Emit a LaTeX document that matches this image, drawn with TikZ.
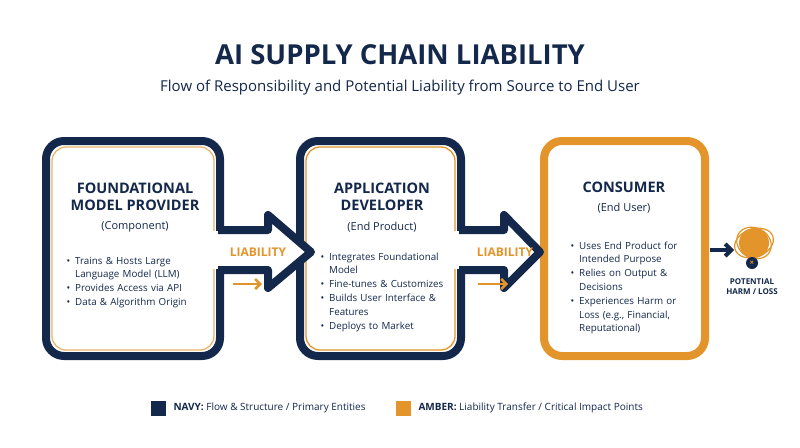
\documentclass[tikz,border=0pt]{standalone}
\usepackage{fontspec}
\setmainfont{Open Sans}
\usepackage{enumitem}
\usetikzlibrary{arrows.meta}
\definecolor{navy}{HTML}{14284B}
\definecolor{amber}{HTML}{E3952B}
\begin{document}
\begin{tikzpicture}[x=1pt,y=-1pt,
  box/.style={line width=8pt,rounded corners=18pt},
  head/.style={font=\fontsize{14.5}{17}\selectfont\bfseries,text=navy,align=center},
  sub/.style={font=\fontsize{11}{13}\selectfont,text=navy},
  bl/.style={font=\fontsize{9.8}{13.8}\selectfont,text=navy,anchor=north west,inner sep=0pt},
  liab/.style={font=\fontsize{12}{14}\selectfont\bfseries,text=amber},
  arr/.style={line width=8pt,line join=round,draw=navy,fill=white}]
\useasboundingbox (0,0) rectangle (800,447);
\fill[white] (0,0) rectangle (800,447);
\newcommand{\bl}[1]{\begin{itemize}[leftmargin=9pt,itemsep=0pt,topsep=0pt,parsep=0pt,label=\textbullet]#1\end{itemize}}
\node[font=\fontsize{27.5}{32}\selectfont\bfseries,text=navy] (title) at (400,55) {AI SUPPLY CHAIN LIABILITY};
\node[font=\fontsize{15}{18}\selectfont,text=navy] (subt) at (400,88) {Flow of Responsibility and Potential Liability from Source to End User};
% boxes
\draw[box,draw=navy,fill=white] (46,141) rectangle (220,356);
\draw[amber!70,line width=1.3pt,rounded corners=14pt] (52,147) rectangle (214,350);
\draw[box,draw=navy,fill=white] (300,141) rectangle (461,356);
\draw[amber,line width=1.3pt,rounded corners=14pt] (306,147) rectangle (455,350);
\draw[box,draw=amber,fill=white] (544,141) rectangle (705,356);
% arrows
\fill[white] (212,231) rectangle (230,269);
\draw[arr] (218,230) -- (268,230) -- (268,215) -- (311,252) -- (268,288) -- (268,270) -- (218,270);
\fill[white] (453,231) rectangle (470,269);
\draw[arr] (459,230) -- (504,230) -- (504,215) -- (540,252) -- (504,288) -- (504,270) -- (459,270);
\node[liab] (l1) at (258,252) {LIABILITY};
\node[liab] (l2) at (505,252) {LIABILITY};
\coordinate (a1s) at (233,284); \coordinate (a1e) at (262,284);
\draw[amber,line width=2.5pt,-{Straight Barb[length=5pt]}] (a1s) -- (a1e);
\coordinate (a2s) at (478,284); \coordinate (a2e) at (508,284);
\draw[amber,line width=2.5pt,-{Straight Barb[length=5pt]}] (a2s) -- (a2e);
% box 1
\node[head] (h1) at (135,197) {FOUNDATIONAL\\MODEL PROVIDER};
\node[sub] (s1) at (135,227) {(Component)};
\node[bl,text width=145pt] (b1) at (66,250) {\bl{\item Trains \& Hosts Large Language Model (LLM)\item Provides Access via API\item Data \& Algorithm Origin}};
% box 2
\node[head] (h2) at (382,197) {APPLICATION\\DEVELOPER};
\node[sub] (s2) at (382,227) {(End Product)};
\node[bl,text width=128pt] (b2) at (320,246) {\bl{\item Integrates Foundational Model\item Fine-tunes \& Customizes\item Builds User Interface \& Features\item Deploys to Market}};
% box 3
\node[head] (h3) at (624,187) {CONSUMER};
\node[sub] (s3) at (624,208) {(End User)};
\node[bl,text width=125pt] (b3) at (570,235) {\bl{\item Uses End Product for Intended Purpose\item Relies on Output \& Decisions\item Experiences Harm or Loss (e.g., Financial, Reputational)}};
% harm
\coordinate (hs) at (710,250);
\node[circle,fill=amber,minimum size=30pt,inner sep=0pt] (harm) at (754,243) {};
\draw[amber,line width=1.2pt,rotate around={20:(754,243)}] (754,243) ellipse (20 and 14);
\draw[amber,line width=1.2pt,rotate around={-30:(754,243)}] (754,243) ellipse (18 and 15);
\node[circle,fill=navy,minimum size=12pt,inner sep=0pt,text=amber,font=\fontsize{8}{8}\selectfont\bfseries] (x) at (752,263) {×};
\draw[navy,line width=4pt,-{Straight Barb[length=6pt]}] (hs) -- (734,250);
\node[font=\fontsize{8}{10}\selectfont\bfseries,text=navy,align=center] (hl) at (752,287) {POTENTIAL\\HARM / LOSS};
% legend
\node[fill=navy,minimum size=15pt,inner sep=0pt] (k1) at (158,408) {};
\node[anchor=west,font=\fontsize{10}{12}\selectfont,text=navy] (k1t) at (170,408) {\textbf{NAVY:} Flow \& Structure / Primary Entities};
\node[fill=amber,minimum size=15pt,inner sep=0pt] (k2) at (403,408) {};
\node[anchor=west,font=\fontsize{10}{12}\selectfont,text=navy] (k2t) at (415,408) {\textbf{AMBER:} Liability Transfer / Critical Impact Points};
\end{tikzpicture}
\end{document}
